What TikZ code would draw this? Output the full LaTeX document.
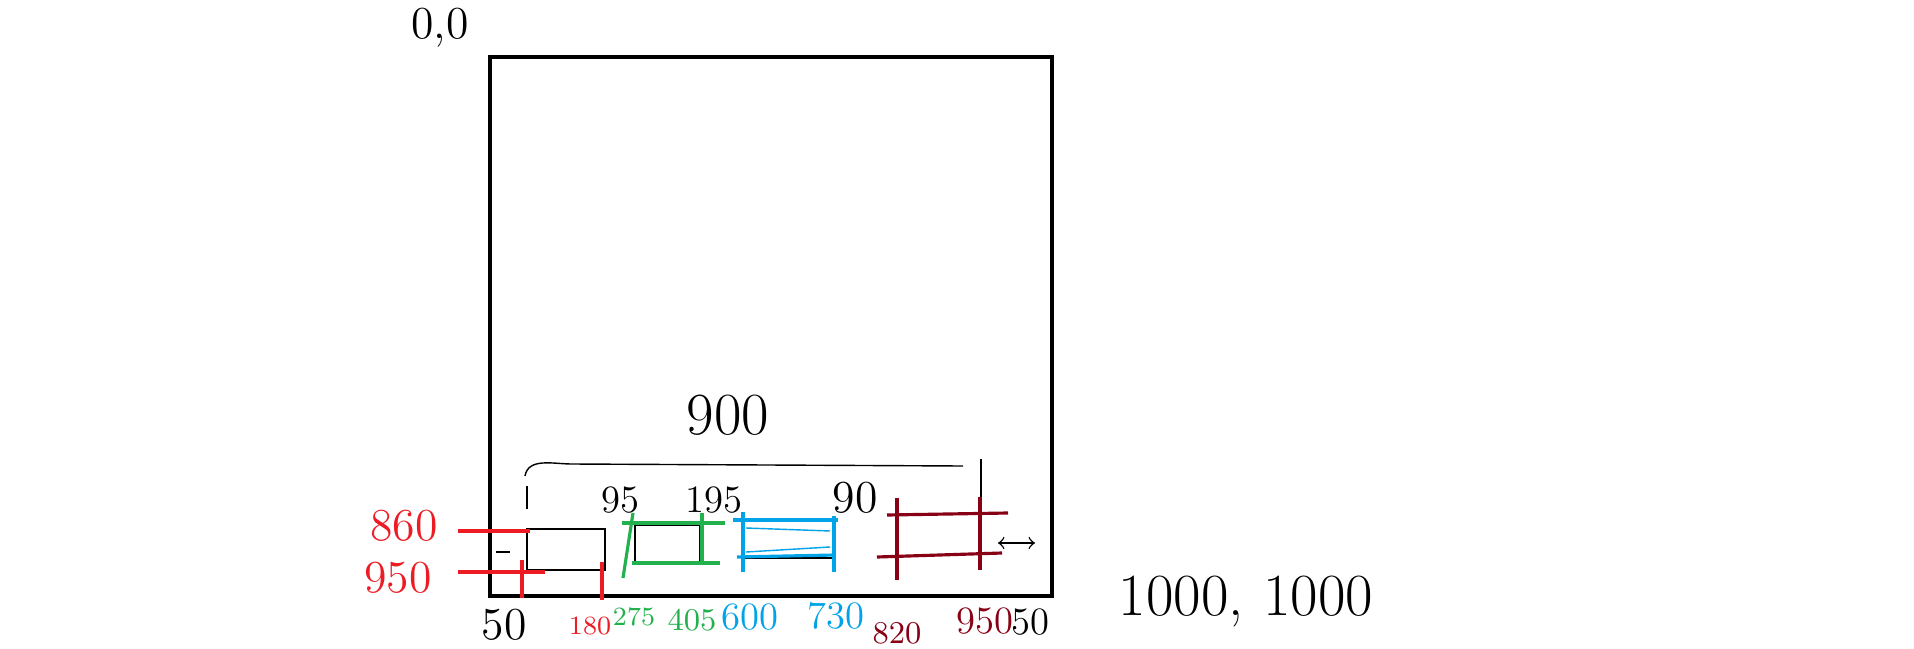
\documentclass[tikz,border=0pt]{standalone}
\usepackage{tikz}
\usetikzlibrary{arrows,positioning}
\definecolor{PaintRed}{RGB}{237,28,36}
\definecolor{PaintGreen}{RGB}{34,177,76}
\definecolor{PaintBlue}{RGB}{0,162,232}
\definecolor{PaintDark}{RGB}{136,0,21}
\begin{document}
\begin{tikzpicture}[x=0.01cm,y=-0.01cm]
			\tikzstyle{Frame}	= [line width=1.4pt]
			\tikzstyle{Thin}	= [line width=0.4pt]
			\tikzstyle{Mark}	= [line width=0.9pt]
			\tikzstyle{Num}		= [inner sep=0pt, font=\fontsize{9}{11}\selectfont]
			\tikzstyle{Tiny}	= [font=\fontsize{7.5}{9}\selectfont]
			\tikzstyle{Mid}		= [font=\fontsize{11}{13}\selectfont]
			\tikzstyle{Large}	= [font=\fontsize{13}{15}\selectfont]
			\tikzstyle{Big}		= [font=\fontsize{17}{20}\selectfont]

			\useasboundingbox (0,0) rectangle (1914,648);

			% canvas
			\coordinate (c0) at (490,57);
			\coordinate (c1) at (1052,596);
			\draw [Frame] (c0) rectangle (c1);
			\node (origin) at (440,28) [Num][Large] {0,0};
			\node (corner) at (1246,602) [Num][Big] {1000,\,\,1000};

			% span over the boxes
			\coordinate (s0) at (525,476);
			\coordinate (s1) at (572,464);
			\coordinate (s2) at (963,466);
			\draw [Thin] (s0) to [out=80, in=180] (s1) to (s2);
			\node (span) at (728,415) [Num][Big] {900};
			\coordinate (t0) at (527,486);
			\coordinate (t1) at (527,509);
			\coordinate (t2) at (981,459);
			\coordinate (t3) at (981,497);
			\draw [Thin] (t0) -- (t1);
			\draw [Thin] (t2) -- (t3);

			% gaps
			\node (g1) at (620,500) [Num][Mid] {95};
			\node (g2) at (714,500) [Num][Mid] {195};
			\node (g3) at (855,498) [Num][Large] {90};

			% box 1
			\coordinate (a0) at (527,529);
			\coordinate (a1) at (605,570);
			\draw [Thin] (a0) rectangle (a1);
			\node (y860) at (404,526) [Num][Large, PaintRed] {860};
			\node (y950) at (398,578) [Num][Large, PaintRed] {950};
			\coordinate (r0) at (458,531);
			\coordinate (r1) at (530,531);
			\coordinate (r2) at (458,572);
			\coordinate (r3) at (545,572);
			\draw [Mark, PaintRed] (r0) -- (r1);
			\draw [Mark, PaintRed] (r2) -- (r3);
			\coordinate (r4) at (522,560);
			\coordinate (r5) at (522,598);
			\coordinate (r6) at (602,562);
			\coordinate (r7) at (602,600);
			\draw [Mark, PaintRed] (r4) -- (r5);
			\draw [Mark, PaintRed] (r6) -- (r7);
			\coordinate (m0) at (496,552);
			\coordinate (m1) at (510,552);
			\draw [Thin] (m0) -- (m1);
			\node (x50) at (504,625) [Num][Large] {50};
			\node (x180) at (590,626) [Num][Tiny, PaintRed] {180};

			% box 2
			\coordinate (b0) at (635,525);
			\coordinate (b1) at (700,562);
			\draw [Thin] (b0) rectangle (b1);
			\coordinate (e0) at (622,523);
			\coordinate (e1) at (725,523);
			\coordinate (e2) at (632,563);
			\coordinate (e3) at (720,563);
			\coordinate (e4) at (623,578);
			\coordinate (e5) at (633,513);
			\coordinate (e6) at (702,513);
			\coordinate (e7) at (702,565);
			\draw [Mark, PaintGreen] (e0) -- (e1);
			\draw [Mark, PaintGreen] (e2) -- (e3);
			\draw [Mark, PaintGreen] (e4) -- (e5);
			\draw [Mark, PaintGreen] (e6) -- (e7);
			\node (x275) at (634,617) [Num][Tiny, PaintGreen] {275};
			\node (x405) at (692,620) [Num, PaintGreen] {405};

			% box 3
			\coordinate (d0) at (743,521);
			\coordinate (d1) at (833,558);
			\draw [Thin] (d0) rectangle (d1);
			\coordinate (f0) at (733,520);
			\coordinate (f1) at (838,520);
			\coordinate (f2) at (737,557);
			\coordinate (f3) at (835,555);
			\coordinate (f4) at (743,512);
			\coordinate (f5) at (743,572);
			\coordinate (f6) at (834,516);
			\coordinate (f7) at (834,572);
			\coordinate (f8) at (746,528);
			\coordinate (f9) at (830,531);
			\coordinate (f10) at (746,552);
			\coordinate (f11) at (830,547);
			\draw [Mark, PaintBlue] (f0) -- (f1);
			\draw [Mark, PaintBlue] (f2) -- (f3);
			\draw [Mark, PaintBlue] (f4) -- (f5);
			\draw [Mark, PaintBlue] (f6) -- (f7);
			\draw [Thin, PaintBlue] (f8) -- (f9);
			\draw [Thin, PaintBlue] (f10) -- (f11);
			\node (x600) at (750,617) [Num][Mid, PaintBlue] {600};
			\node (x730) at (836,616) [Num][Mid, PaintBlue] {730};

			% box 4
			\coordinate (h0) at (887,515);
			\coordinate (h1) at (1008,513);
			\coordinate (h2) at (877,557);
			\coordinate (h3) at (1002,553);
			\coordinate (h4) at (897,498);
			\coordinate (h5) at (897,580);
			\coordinate (h6) at (980,497);
			\coordinate (h7) at (980,570);
			\draw [Mark, PaintDark] (h0) -- (h1);
			\draw [Mark, PaintDark] (h2) -- (h3);
			\draw [Mark, PaintDark] (h4) -- (h5);
			\draw [Mark, PaintDark] (h6) -- (h7);
			\node (x820) at (897,633) [Num, PaintDark] {820};
			\node (x950) at (985,621) [Num][Mid, PaintDark] {950};
			\node (x50r) at (1030,622) [Num][Mid] {50};
			\coordinate (k0) at (998,543);
			\coordinate (k1) at (1035,543);
			\draw [Thin, <->] (k0) -- (k1);
\end{tikzpicture}
\end{document}
